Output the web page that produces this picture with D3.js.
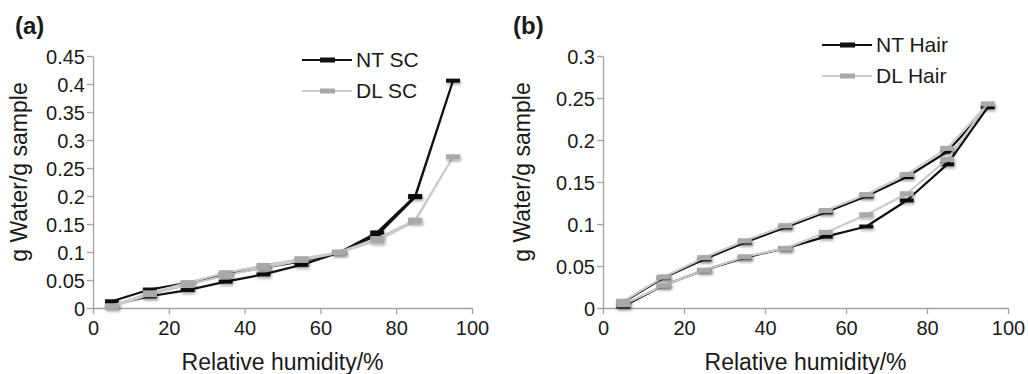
<!DOCTYPE html>
<html>
<head>
<meta charset="utf-8">
<script src="https://cdn.jsdelivr.net/npm/d3@7"></script>
<style>
  body { margin: 0; background: #fff; }
  text { font-family: "Liberation Sans", Arial, sans-serif; fill: #1a1a1a; }
</style>
</head>
<body>
<div id="chart"></div>
<script>
// relative humidity steps: sorption going up, then desorption coming back down
const rhUp = [5, 15, 25, 35, 45, 55, 65, 75, 85, 95];
const rhDown = [85, 75, 65, 55, 45, 35, 25, 15, 5];

// panel (a) stratum corneum
const ntScUp = [0.005, 0.021, 0.032, 0.047, 0.060, 0.077, 0.099, 0.135, 0.200, 0.406];
const ntScDown = [0.198, 0.130, 0.100, 0.083, 0.072, 0.060, 0.045, 0.033, 0.012];
const dlScUp = [0.002, 0.024, 0.041, 0.058, 0.072, 0.085, 0.099, 0.120, 0.155, 0.270];
const dlScDown = [0.157, 0.124, 0.100, 0.088, 0.076, 0.063, 0.045, 0.027, 0.004];

// panel (b) hair
const ntHairUp = [0.002, 0.027, 0.045, 0.060, 0.071, 0.085, 0.097, 0.128, 0.171, 0.239];
const ntHairDown = [0.186, 0.156, 0.133, 0.114, 0.096, 0.078, 0.058, 0.036, 0.007];
const dlHairUp = [0.004, 0.027, 0.045, 0.061, 0.071, 0.090, 0.111, 0.136, 0.177, 0.243];
const dlHairDown = [0.190, 0.159, 0.135, 0.116, 0.098, 0.080, 0.060, 0.037, 0.008];

const xTicks = [0, 20, 40, 60, 80, 100];
const yTicksA = [0, 0.05, 0.1, 0.15, 0.2, 0.25, 0.3, 0.35, 0.4, 0.45];
const yTicksB = [0, 0.05, 0.1, 0.15, 0.2, 0.25, 0.3];

const WIDTH = 1028, HEIGHT = 374;
const AXIS_GREY = "#a3a3a3";
const BLACK = "#111111";
const GREY_LINE = "#cbcbcb";
const GREY_MARK = "#a9a9a9";

const svg = d3.select("#chart").append("svg")
    .attr("width", WIDTH)
    .attr("height", HEIGHT);

// soft shadow under the markers, like the original spreadsheet export
const defs = svg.append("defs");
defs.append("filter")
    .attr("id", "shadow")
    .attr("x", "-50%").attr("y", "-50%")
    .attr("width", "200%").attr("height", "200%")
    .append("feDropShadow")
    .attr("dx", 1).attr("dy", 2)
    .attr("stdDeviation", 1.5)
    .attr("flood-color", "#000")
    .attr("flood-opacity", 0.35);

function loop(up, down) {
    return rhUp.map((rh, i) => ({rh: rh, v: up[i]}))
        .concat(rhDown.map((rh, i) => ({rh: rh, v: down[i]})));
}

function drawPanel(opts) {
    const x = d3.scaleLinear().domain([0, 100]).range([opts.left, opts.right]);
    const y = d3.scaleLinear().domain([0, opts.yMax]).range([308, 56]);
    const g = svg.append("g");

    // axes
    const xAxis = g.append("g")
        .attr("transform", `translate(0,${y(0)})`)
        .call(d3.axisBottom(x).tickValues(xTicks).tickSize(6).tickSizeOuter(0));
    const yAxis = g.append("g")
        .attr("transform", `translate(${x(0)},0)`)
        .call(d3.axisLeft(y).tickValues(opts.yTicks).tickSize(6).tickSizeOuter(0).tickPadding(2)
            .tickFormat(d => String(+d.toFixed(2))));
    [xAxis, yAxis].forEach(a => {
        a.selectAll("path, line").attr("stroke", AXIS_GREY).attr("stroke-width", 1.3);
        a.selectAll("text").style("font-size", "20px").attr("fill", "#1a1a1a")
            .style("font-family", "'Liberation Sans', Arial, sans-serif");
    });
    xAxis.selectAll("text").attr("y", 27).attr("dy", 0);
    yAxis.selectAll("text").attr("dy", "0.36em");

    const line = d3.line().x(d => x(d.rh)).y(d => y(d.v));

    opts.series.forEach(s => {
        const pts = loop(s.up, s.down);
        g.append("path")
            .datum(pts)
            .attr("d", line)
            .attr("fill", "none")
            .attr("stroke", s.line)
            .attr("stroke-width", 2.2)
            .attr("stroke-linejoin", "round");
        g.append("g").attr("filter", "url(#shadow)")
            .selectAll("rect")
            .data(pts)
            .join("rect")
            .attr("x", d => x(d.rh) - 7)
            .attr("y", d => y(d.v) - s.mh / 2)
            .attr("width", 14)
            .attr("height", s.mh)
            .attr("fill", s.mark);
    });

    // legend
    opts.series.forEach((s, i) => {
        const ly = opts.legendY + i * 31;
        g.append("line")
            .attr("x1", opts.legendX).attr("x2", opts.legendX + 50)
            .attr("y1", ly).attr("y2", ly)
            .attr("stroke", s.line).attr("stroke-width", 2.2);
        g.append("rect")
            .attr("x", opts.legendX + 18).attr("y", ly - 2.5)
            .attr("width", 15).attr("height", 5)
            .attr("fill", s.mark);
        g.append("text")
            .attr("x", opts.legendX + 54).attr("y", ly + 7)
            .style("font-size", "21px")
            .text(s.name);
    });

    // titles
    g.append("text")
        .attr("x", (opts.left + opts.right) / 2)
        .attr("y", 370)
        .attr("text-anchor", "middle")
        .style("font-size", "23px")
        .text("Relative humidity/%");
    g.append("text")
        .attr("transform", `translate(${opts.yTitleX},172) rotate(-90)`)
        .attr("text-anchor", "middle")
        .style("font-size", "23px")
        .text("g Water/g sample");
    g.append("text")
        .attr("x", opts.tagX).attr("y", 34)
        .style("font-size", "24px")
        .style("font-weight", "bold")
        .text(opts.tag);
}

drawPanel({
    left: 93, right: 472, yMax: 0.45, yTicks: yTicksA,
    legendX: 302, legendY: 60, yTitleX: 27, tagX: 15, tag: "(a)",
    series: [
        {name: "NT SC", up: ntScUp, down: ntScDown, line: BLACK, mark: BLACK, mh: 4},
        {name: "DL SC", up: dlScUp, down: dlScDown, line: GREY_LINE, mark: GREY_MARK, mh: 5}
    ]
});

drawPanel({
    left: 603, right: 1008, yMax: 0.3, yTicks: yTicksB,
    legendX: 822, legendY: 45, yTitleX: 530, tagX: 513, tag: "(b)",
    series: [
        {name: "NT Hair", up: ntHairUp, down: ntHairDown, line: BLACK, mark: BLACK, mh: 4},
        {name: "DL Hair", up: dlHairUp, down: dlHairDown, line: GREY_LINE, mark: GREY_MARK, mh: 5}
    ]
});
</script>
</body>
</html>
